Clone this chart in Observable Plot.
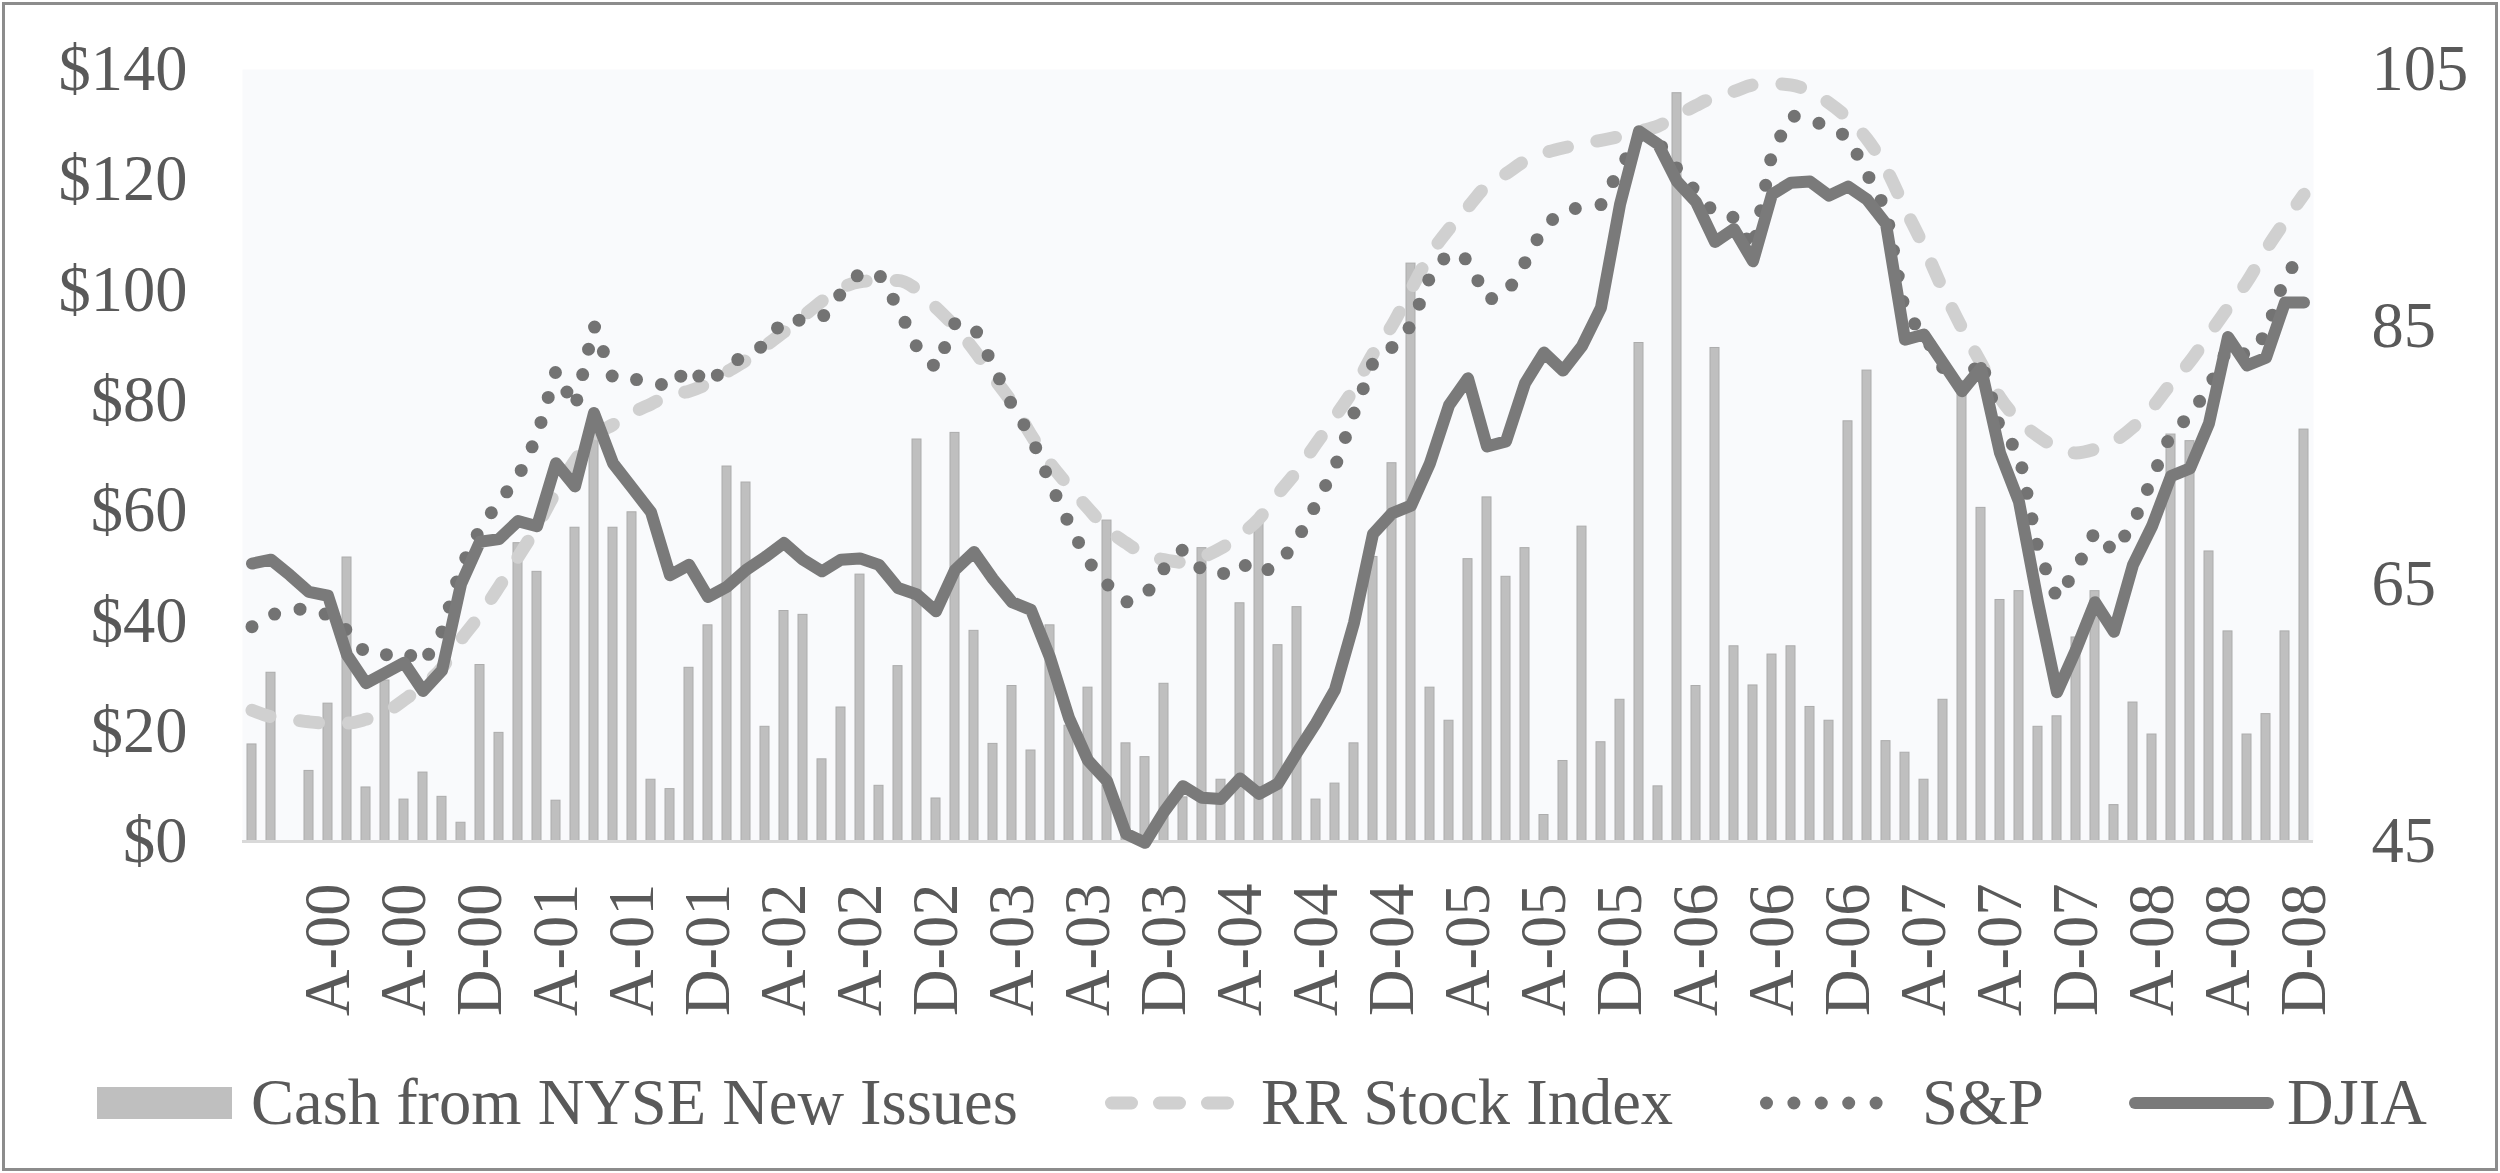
<!DOCTYPE html>
<html><head><meta charset="utf-8">
<script src="https://cdn.jsdelivr.net/npm/d3@7"></script>
<script src="https://cdn.jsdelivr.net/npm/@observablehq/plot@0.6"></script>
<style>
html,body{margin:0;padding:0;background:#fff;}
#page{position:relative;width:2500px;height:1173px;overflow:hidden;background:#fff;font-family:"Liberation Serif","Times New Roman",serif;color:#595959;}
#frame{position:absolute;left:2px;top:2px;right:2px;bottom:2px;border:3px solid #8c8c8c;pointer-events:none;}
#chart{position:absolute;left:0;top:0;}
#legend{position:absolute;left:0;top:1040px;width:2500px;height:126px;}
.sw{position:absolute;}
.tx{position:absolute;top:0;height:126px;line-height:126px;font-size:64.5px;white-space:nowrap;}
</style></head>
<body><div id="page"><div id="chart"></div><div id="legend"></div><div id="frame"></div></div>
<script>
// Cash from NYSE New Issues ($ millions), monthly Dec-1899 .. Dec-1908
const cash = [17.6, 30.6, 0, 12.8, 25.0, 51.5, 9.8, 29.2, 7.6, 12.5,
  8.1, 3.4, 32.0, 19.7, 54.1, 48.9, 7.4, 56.9, 73.0, 56.9,
  59.7, 11.2, 9.5, 31.5, 39.2, 68.0, 65.1, 20.8, 41.8, 41.1,
  14.9, 24.3, 48.4, 10.1, 31.8, 72.9, 7.8, 74.1, 38.2, 17.7,
  28.2, 16.5, 39.2, 21.0, 27.9, 58.2, 17.8, 15.3, 28.6, 8.0,
  53.2, 11.2, 43.2, 58.0, 35.6, 42.5, 7.6, 10.5, 17.8, 51.6,
  68.6, 104.8, 27.9, 21.9, 51.2, 62.4, 48.0, 53.2, 4.8, 14.6,
  57.1, 18.0, 25.7, 90.4, 10.0, 135.7, 28.2, 89.5, 35.4, 28.3,
  33.9, 35.4, 24.4, 21.9, 76.2, 85.4, 18.2, 16.1, 11.2, 25.7,
  82.0, 60.5, 43.8, 45.4, 20.8, 22.7, 37.0, 45.4, 6.6, 25.2,
  19.4, 73.8, 72.6, 52.6, 38.1, 19.4, 23.1, 38.1, 74.7];
// Index series (right axis)
const rrIndex = [55.2, 54.7, 54.5, 54.3, 54.2, 54.2, 54.5, 55.0, 56.0, 57.1,
  58.5, 60.7, 62.6, 64.8, 67.1, 69.5, 72.2, 74.6, 76.5, 77.4,
  78.3, 79.0, 79.7, 80.0, 80.6, 81.5, 82.4, 83.5, 84.6, 85.8,
  87.0, 88.0, 88.5, 88.6, 88.6, 87.9, 86.5, 85.0, 83.2, 81.1,
  79.1, 76.6, 74.4, 72.6, 70.9, 69.3, 68.2, 67.3, 66.9, 66.7,
  67.1, 67.8, 68.8, 70.1, 72.0, 73.8, 75.9, 78.0, 80.2, 82.9,
  85.1, 87.9, 90.6, 92.6, 94.3, 96.0, 96.9, 97.9, 98.5, 98.9,
  99.2, 99.5, 99.8, 100.2, 100.6, 101.4, 102.2, 102.9, 103.3, 103.8,
  103.9, 103.8, 103.3, 102.4, 101.2, 99.6, 97.3, 94.2, 91.2, 87.9,
  84.9, 82.2, 79.5, 77.7, 76.5, 75.6, 75.2, 75.5, 76.1, 77.2,
  78.7, 80.6, 82.3, 84.4, 86.5, 88.5, 91.0, 93.2, 95.3];
const sp = [61.7, 62.6, 63.0, 63.1, 62.6, 61.4, 59.6, 59.5, 59.8, 58.8,
  61.3, 66.3, 69.3, 71.4, 73.3, 76.5, 81.6, 78.7, 85.1, 81.0,
  80.9, 80.9, 80.2, 81.9, 80.5, 82.0, 82.8, 83.6, 85.6, 85.5,
  85.7, 87.6, 89.2, 89.1, 86.5, 83.4, 81.8, 85.3, 85.0, 82.0,
  78.9, 76.5, 72.9, 69.7, 66.8, 65.0, 63.6, 64.1, 66.2, 67.7,
  66.1, 65.7, 66.7, 65.8, 66.5, 68.4, 71.2, 74.1, 78.3, 82.2,
  83.4, 85.1, 88.9, 90.8, 90.2, 87.1, 87.5, 90.0, 92.8, 94.0,
  94.3, 94.5, 97.3, 99.8, 99.4, 97.3, 95.5, 93.8, 93.5, 91.0,
  98.5, 101.4, 101.2, 100.4, 99.8, 96.9, 94.1, 86.1, 84.4, 81.8,
  80.2, 82.5, 77.1, 75.2, 67.7, 63.9, 66.1, 69.1, 67.5, 69.7,
  73.2, 76.7, 78.1, 80.3, 83.4, 82.8, 84.4, 88.9, 90.8];
const djia = [66.6, 66.9, 65.7, 64.4, 64.1, 59.5, 57.3, 58.1, 58.9, 56.7,
  58.3, 65.0, 68.3, 68.5, 69.9, 69.5, 74.4, 72.6, 78.3, 74.4,
  72.5, 70.6, 65.7, 66.5, 64.0, 64.8, 66.1, 67.1, 68.2, 66.9,
  66.0, 66.9, 67.0, 66.5, 64.7, 64.2, 62.9, 66.1, 67.5, 65.4,
  63.6, 63.0, 59.3, 54.6, 51.3, 49.7, 45.6, 44.9, 47.3, 49.3,
  48.4, 48.3, 49.9, 48.7, 49.5, 51.9, 54.2, 56.8, 62.0, 68.9,
  70.5, 71.1, 74.4, 78.9, 81.0, 75.7, 76.1, 80.6, 83.0, 81.6,
  83.5, 86.5, 94.5, 100.2, 99.2, 96.3, 94.7, 91.6, 92.6, 90.1,
  95.3, 96.2, 96.3, 95.2, 95.9, 94.9, 93.0, 84.0, 84.4, 82.2,
  80.0, 81.8, 75.2, 71.4, 63.6, 56.6, 59.9, 63.6, 61.3, 66.5,
  69.5, 73.4, 74.0, 77.5, 84.2, 82.0, 82.6, 86.9, 86.9];
const tickLabels = ["A-00","A-00","D-00","A-01","A-01","D-01","A-02","A-02","D-02",
  "A-03","A-03","D-03","A-04","A-04","D-04","A-05","A-05","D-05",
  "A-06","A-06","D-06","A-07","A-07","D-07","A-08","A-08","D-08"];
const leftTicks = [0, 20, 40, 60, 80, 100, 120, 140];
const rightTicks = [45, 65, 85, 105];
const legendNames = ["Cash from NYSE New Issues", "RR Stock Index", "S&P", "DJIA"];

// secondary axis (45..105) mapped onto primary ($0..$140)
const toLeft = r => (r - 45) * 140 / 60;
const fromLeft = v => v * 60 / 140 + 45;
const idx = d3.range(cash.length);
const tickIdx = tickLabels.map((_, k) => 4 + 4 * k);
const labelMap = new Map(tickIdx.map((t, k) => [t, tickLabels[k]]));

const rrStyle = {stroke: "#d0d0d0", strokeWidth: 13, strokeDasharray: "19 30", strokeLinecap: "round"};
const spStyle = {stroke: "#737373", strokeWidth: 13, strokeDasharray: "0 26", strokeLinecap: "round"};
const djStyle = {stroke: "#7a7a7a", strokeWidth: 12, strokeLinecap: "round", strokeLinejoin: "round"};

const chart = Plot.plot({
  width: 2500, height: 1040,
  marginLeft: 242, marginRight: 187, marginTop: 69, marginBottom: 199,
  style: {fontFamily: '"Liberation Serif","Times New Roman",serif', fontSize: "64.5px", color: "#595959", background: "transparent", overflow: "visible"},
  x: {type: "linear", domain: [-0.5, cash.length - 0.5]},
  y: {domain: [0, 140]},
  marks: [
    Plot.frame({fill: "#f9fafc", stroke: null}),
    Plot.rectY(idx, {x1: i => i - 0.5, x2: i => i + 0.5, y: i => cash[i], fill: "#bfbfbf", stroke: "#acacac", strokeWidth: 1, insetLeft: 5, insetRight: 5}),
    Plot.ruleY([0], {stroke: "#d9d9d9", strokeWidth: 3}),
    Plot.line(idx, {x: i => i, y: i => toLeft(rrIndex[i]), curve: "monotone-x", ...rrStyle}),
    Plot.line(idx, {x: i => i, y: i => toLeft(sp[i]), ...spStyle}),
    Plot.line(idx, {x: i => i, y: i => toLeft(djia[i]), ...djStyle}),
    Plot.axisY({ticks: leftTicks, tickFormat: d => "$" + d, tickSize: 0, tickPadding: 55, label: null}),
    Plot.axisY({anchor: "right", ticks: rightTicks.map(toLeft), tickFormat: v => String(Math.round(fromLeft(v))), tickSize: 0, tickPadding: 58, label: null}),
    Plot.axisX({ticks: tickIdx, tickFormat: d => labelMap.get(d), tickRotate: -90, tickSize: 0, tickPadding: 42, label: null})
  ]
});
document.getElementById("chart").appendChild(chart);

// legend
const legend = d3.select("#legend");
const items = [
  {name: legendNames[0], sw: 97, w: 135, tx: 251, kind: "bar"},
  {name: legendNames[1], sw: 1105, w: 132, tx: 1261, kind: "line", style: {...rrStyle, strokeDasharray: "20 28"}},
  {name: legendNames[2], sw: 1760, w: 149, tx: 1922, kind: "line", style: {...spStyle, strokeDasharray: "0 27.4"}},
  {name: legendNames[3], sw: 2129, w: 145, tx: 2287, kind: "line", style: djStyle}
];
for (const it of items) {
  const svg = legend.append("svg").attr("class", "sw").attr("width", it.w).attr("height", 32)
    .style("left", it.sw + "px").style("top", "47px").style("overflow", "visible");
  if (it.kind === "bar") {
    svg.append("rect").attr("width", it.w).attr("height", 32).attr("fill", "#bfbfbf");
  } else {
    const hw = it.style.strokeWidth / 2;
    svg.append("line").attr("x1", hw).attr("x2", it.w - hw).attr("y1", 16).attr("y2", 16)
      .attr("stroke", it.style.stroke).attr("stroke-width", it.style.strokeWidth)
      .attr("stroke-dasharray", it.style.strokeDasharray || null)
      .attr("stroke-linecap", "round");
  }
  legend.append("div").attr("class", "tx").style("left", it.tx + "px").text(it.name);
}
</script></body></html>
